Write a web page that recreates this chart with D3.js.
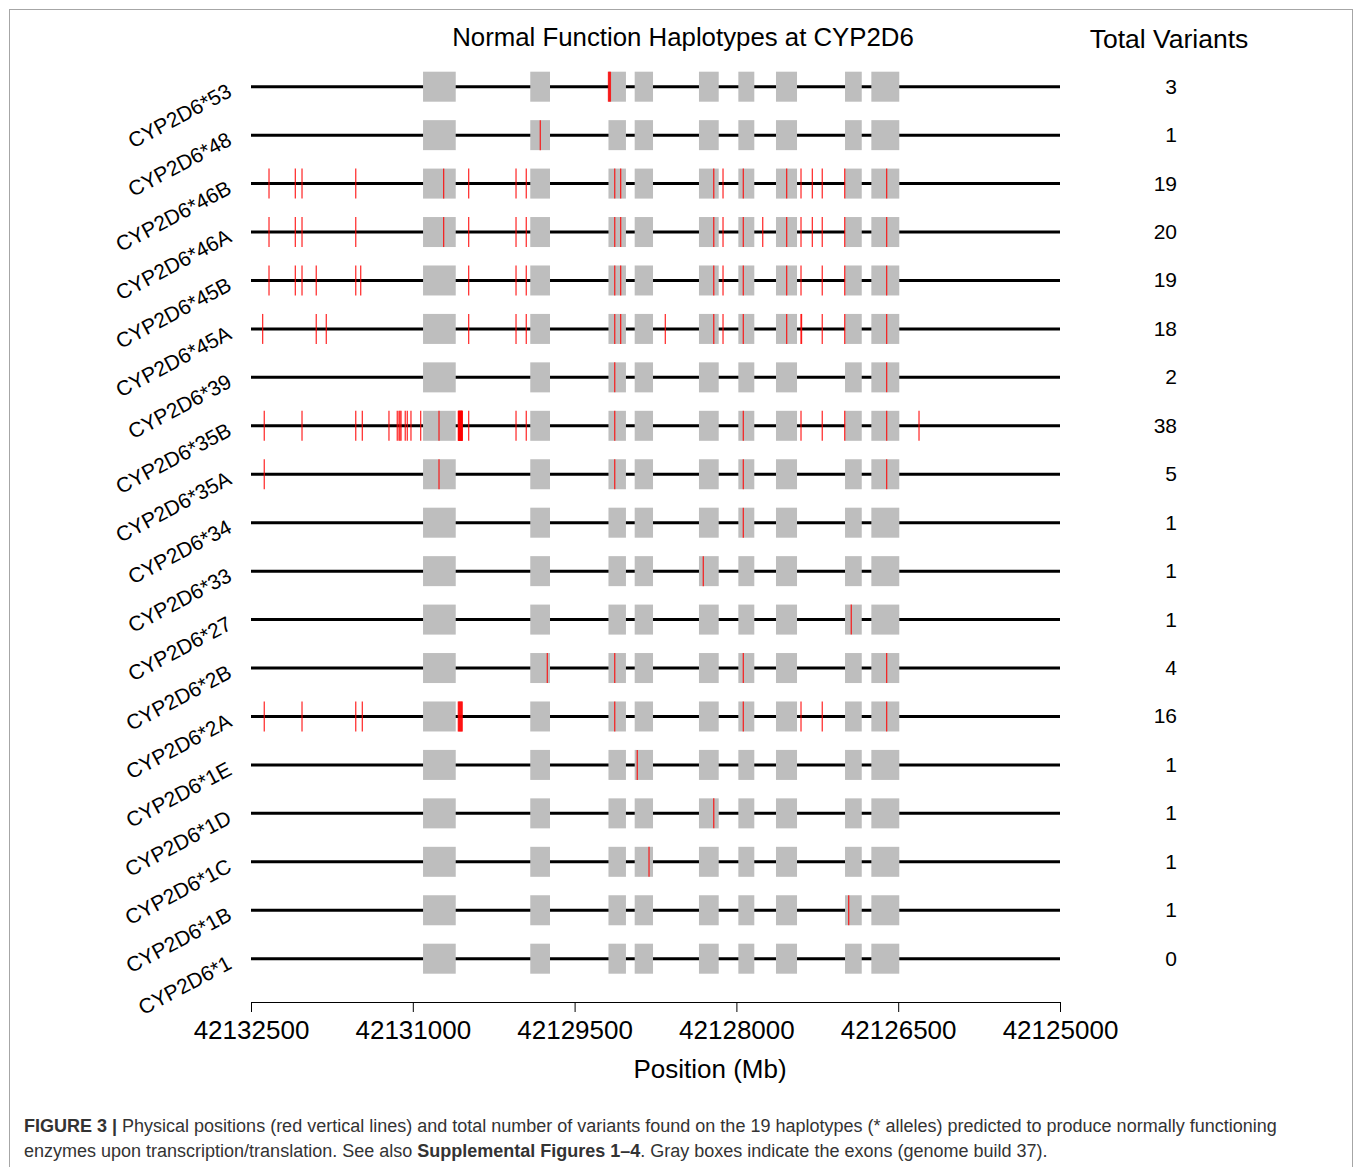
<!DOCTYPE html>
<html>
<head>
<meta charset="utf-8">
<script src="https://cdn.jsdelivr.net/npm/d3@7"></script>
<style>
  body { margin: 0; background: #fff; }
  svg { display: block; font-family: "Liberation Sans", Arial, sans-serif; }
  .caption { fill: #333; font-size: 18px; }
</style>
</head>
<body>
<div id="chart"></div>
<script>
// haplotypes, top to bottom
const haplotypes = ["CYP2D6*53", "CYP2D6*48", "CYP2D6*46B", "CYP2D6*46A", "CYP2D6*45B",
  "CYP2D6*45A", "CYP2D6*39", "CYP2D6*35B", "CYP2D6*35A", "CYP2D6*34", "CYP2D6*33",
  "CYP2D6*27", "CYP2D6*2B", "CYP2D6*2A", "CYP2D6*1E", "CYP2D6*1D", "CYP2D6*1C",
  "CYP2D6*1B", "CYP2D6*1"];

const totals = [3, 1, 19, 20, 19, 18, 2, 38, 5, 1, 1, 1, 4, 16, 1, 1, 1, 1, 0];

// exon start/end (approx.)
const exons = [
  [42130905, 42130602], [42129911, 42129728], [42129186, 42129024],
  [42128943, 42128773], [42128347, 42128164], [42127982, 42127834],
  [42127633, 42127438], [42126993, 42126838], [42126749, 42126490]
];

// variant positions per haplotype (approx.)
const variants = {
  "CYP2D6*53": [42129186, 42129177, 42129168],
  "CYP2D6*48": [42129818],
  "CYP2D6*46B": [42132333, 42132089, 42132027, 42131529, 42130714, 42130482, 42130043,
    42129948, 42129128, 42129073, 42128210, 42128124, 42127936, 42127534, 42127401,
    42127296, 42127204, 42126996, 42126607],
  "CYP2D6*46A": [42132333, 42132089, 42132027, 42131529, 42130714, 42130482, 42130043,
    42129948, 42129128, 42129073, 42128210, 42128124, 42127936, 42127756, 42127534,
    42127401, 42127296, 42127204, 42126996, 42126607],
  "CYP2D6*45B": [42132333, 42132089, 42132027, 42131895, 42131529, 42131483, 42130482,
    42130043, 42129948, 42129128, 42129073, 42128210, 42128124, 42127936, 42127534,
    42127401, 42127204, 42126996, 42126607],
  "CYP2D6*45A": [42132392, 42131895, 42131802, 42130482, 42130043, 42129948, 42129128,
    42129073, 42128659, 42128210, 42128124, 42127936, 42127534, 42127401, 42127396,
    42127204, 42126996, 42126607],
  "CYP2D6*39": [42129128, 42126607],
  "CYP2D6*35B": [42132377, 42132027, 42131529, 42131468, 42131221, 42131144, 42131128,
    42131119, 42131109, 42131070, 42131051, 42131017, 42130927, 42130757,
    42130578, 42130575, 42130572, 42130569, 42130566, 42130563, 42130560, 42130557,
    42130554, 42130551, 42130548, 42130546, 42130544, 42130541,
    42130482, 42130043, 42129948, 42129128, 42127936, 42127401, 42127204, 42126996,
    42126607, 42126307],
  "CYP2D6*35A": [42132377, 42130757, 42129128, 42127936, 42126607],
  "CYP2D6*34": [42127936],
  "CYP2D6*33": [42128307],
  "CYP2D6*27": [42126935],
  "CYP2D6*2B": [42129753, 42129128, 42127936, 42126607],
  "CYP2D6*2A": [42132377, 42132027, 42131529, 42131468, 42130578, 42130572, 42130566,
    42130560, 42130554, 42130548, 42130542, 42129128, 42127936, 42127401, 42127204,
    42126607],
  "CYP2D6*1E": [42128919],
  "CYP2D6*1D": [42128210],
  "CYP2D6*1C": [42128810],
  "CYP2D6*1B": [42126959],
  "CYP2D6*1": []
};

const xTicks = [42132500, 42131000, 42129500, 42128000, 42126500, 42125000];

const width = 1355, height = 1167;
const boxH = 30;

const x = d3.scaleLinear().domain([42132500, 42125000]).range([251, 1060]);
const y = d3.scalePoint().domain(haplotypes).range([86.7, 958.7]);

const svg = d3.select("#chart").append("svg")
  .attr("width", width)
  .attr("height", height);

// figure frame
svg.append("rect")
  .attr("x", 9.5).attr("y", 9.5)
  .attr("width", 1343).attr("height", 1170)
  .attr("fill", "none")
  .attr("stroke", "#a6a6a6");

svg.append("text")
  .attr("x", 683).attr("y", 46)
  .attr("text-anchor", "middle")
  .attr("font-size", 25.8)
  .text("Normal Function Haplotypes at CYP2D6");

svg.append("text")
  .attr("x", 1169).attr("y", 48)
  .attr("text-anchor", "middle")
  .attr("font-size", 26.5)
  .text("Total Variants");

const rows = svg.append("g")
  .selectAll(".row")
  .data(haplotypes)
  .join("g")
  .attr("class", "row")
  .attr("transform", (d) => `translate(0,${y(d)})`);

rows.append("line")
  .attr("x1", x.range()[0])
  .attr("x2", x.range()[1])
  .attr("stroke", "#000")
  .attr("stroke-width", 3);

rows.selectAll(".exon")
  .data(exons)
  .join("rect")
  .attr("class", "exon")
  .attr("x", (d) => x(d[0]))
  .attr("width", (d) => x(d[1]) - x(d[0]))
  .attr("y", -boxH / 2)
  .attr("height", boxH)
  .attr("fill", "#bebebe");

rows.selectAll(".variant")
  .data((d) => variants[d])
  .join("line")
  .attr("class", "variant")
  .attr("x1", (d) => x(d))
  .attr("x2", (d) => x(d))
  .attr("y1", -boxH / 2)
  .attr("y2", boxH / 2)
  .attr("stroke", "#ff0000")
  .attr("stroke-opacity", 0.8)
  .attr("stroke-width", 1.3);

rows.append("text")
  .attr("text-anchor", "end")
  .attr("font-size", 21)
  .attr("transform", "translate(233,9) rotate(-28)")
  .text((d) => d);

rows.append("text")
  .attr("x", 1177)
  .attr("y", 7)
  .attr("text-anchor", "end")
  .attr("font-size", 21)
  .text((d, i) => totals[i]);

// x axis
const axis = svg.append("g")
  .attr("transform", "translate(0,1002)")
  .call(d3.axisBottom(x).tickValues(xTicks).tickFormat(d3.format("d"))
    .tickSize(10).tickSizeOuter(0));
axis.select(".domain").attr("stroke", "#000");
axis.selectAll(".tick line").attr("stroke", "#000");
axis.selectAll(".tick text")
  .attr("font-family", "Liberation Sans, Arial, sans-serif")
  .attr("font-size", 26)
  .attr("fill", "#000")
  .attr("dy", 0)
  .attr("y", 37);

svg.append("text")
  .attr("x", 710).attr("y", 1078)
  .attr("text-anchor", "middle")
  .attr("font-size", 26)
  .text("Position (Mb)");

// caption
const cap1 = svg.append("text").attr("class", "caption").attr("x", 24).attr("y", 1132);
cap1.append("tspan").attr("font-weight", "bold").text("FIGURE 3 |");
cap1.append("tspan").text(" Physical positions (red vertical lines) and total number of variants found on the 19 haplotypes (* alleles) predicted to produce normally functioning");

const cap2 = svg.append("text").attr("class", "caption").attr("x", 24).attr("y", 1157);
cap2.append("tspan").text("enzymes upon transcription/translation. See also ");
cap2.append("tspan").attr("font-weight", "bold").text("Supplemental Figures 1–4");
cap2.append("tspan").text(". Gray boxes indicate the exons (genome build 37).");
</script>
</body>
</html>
